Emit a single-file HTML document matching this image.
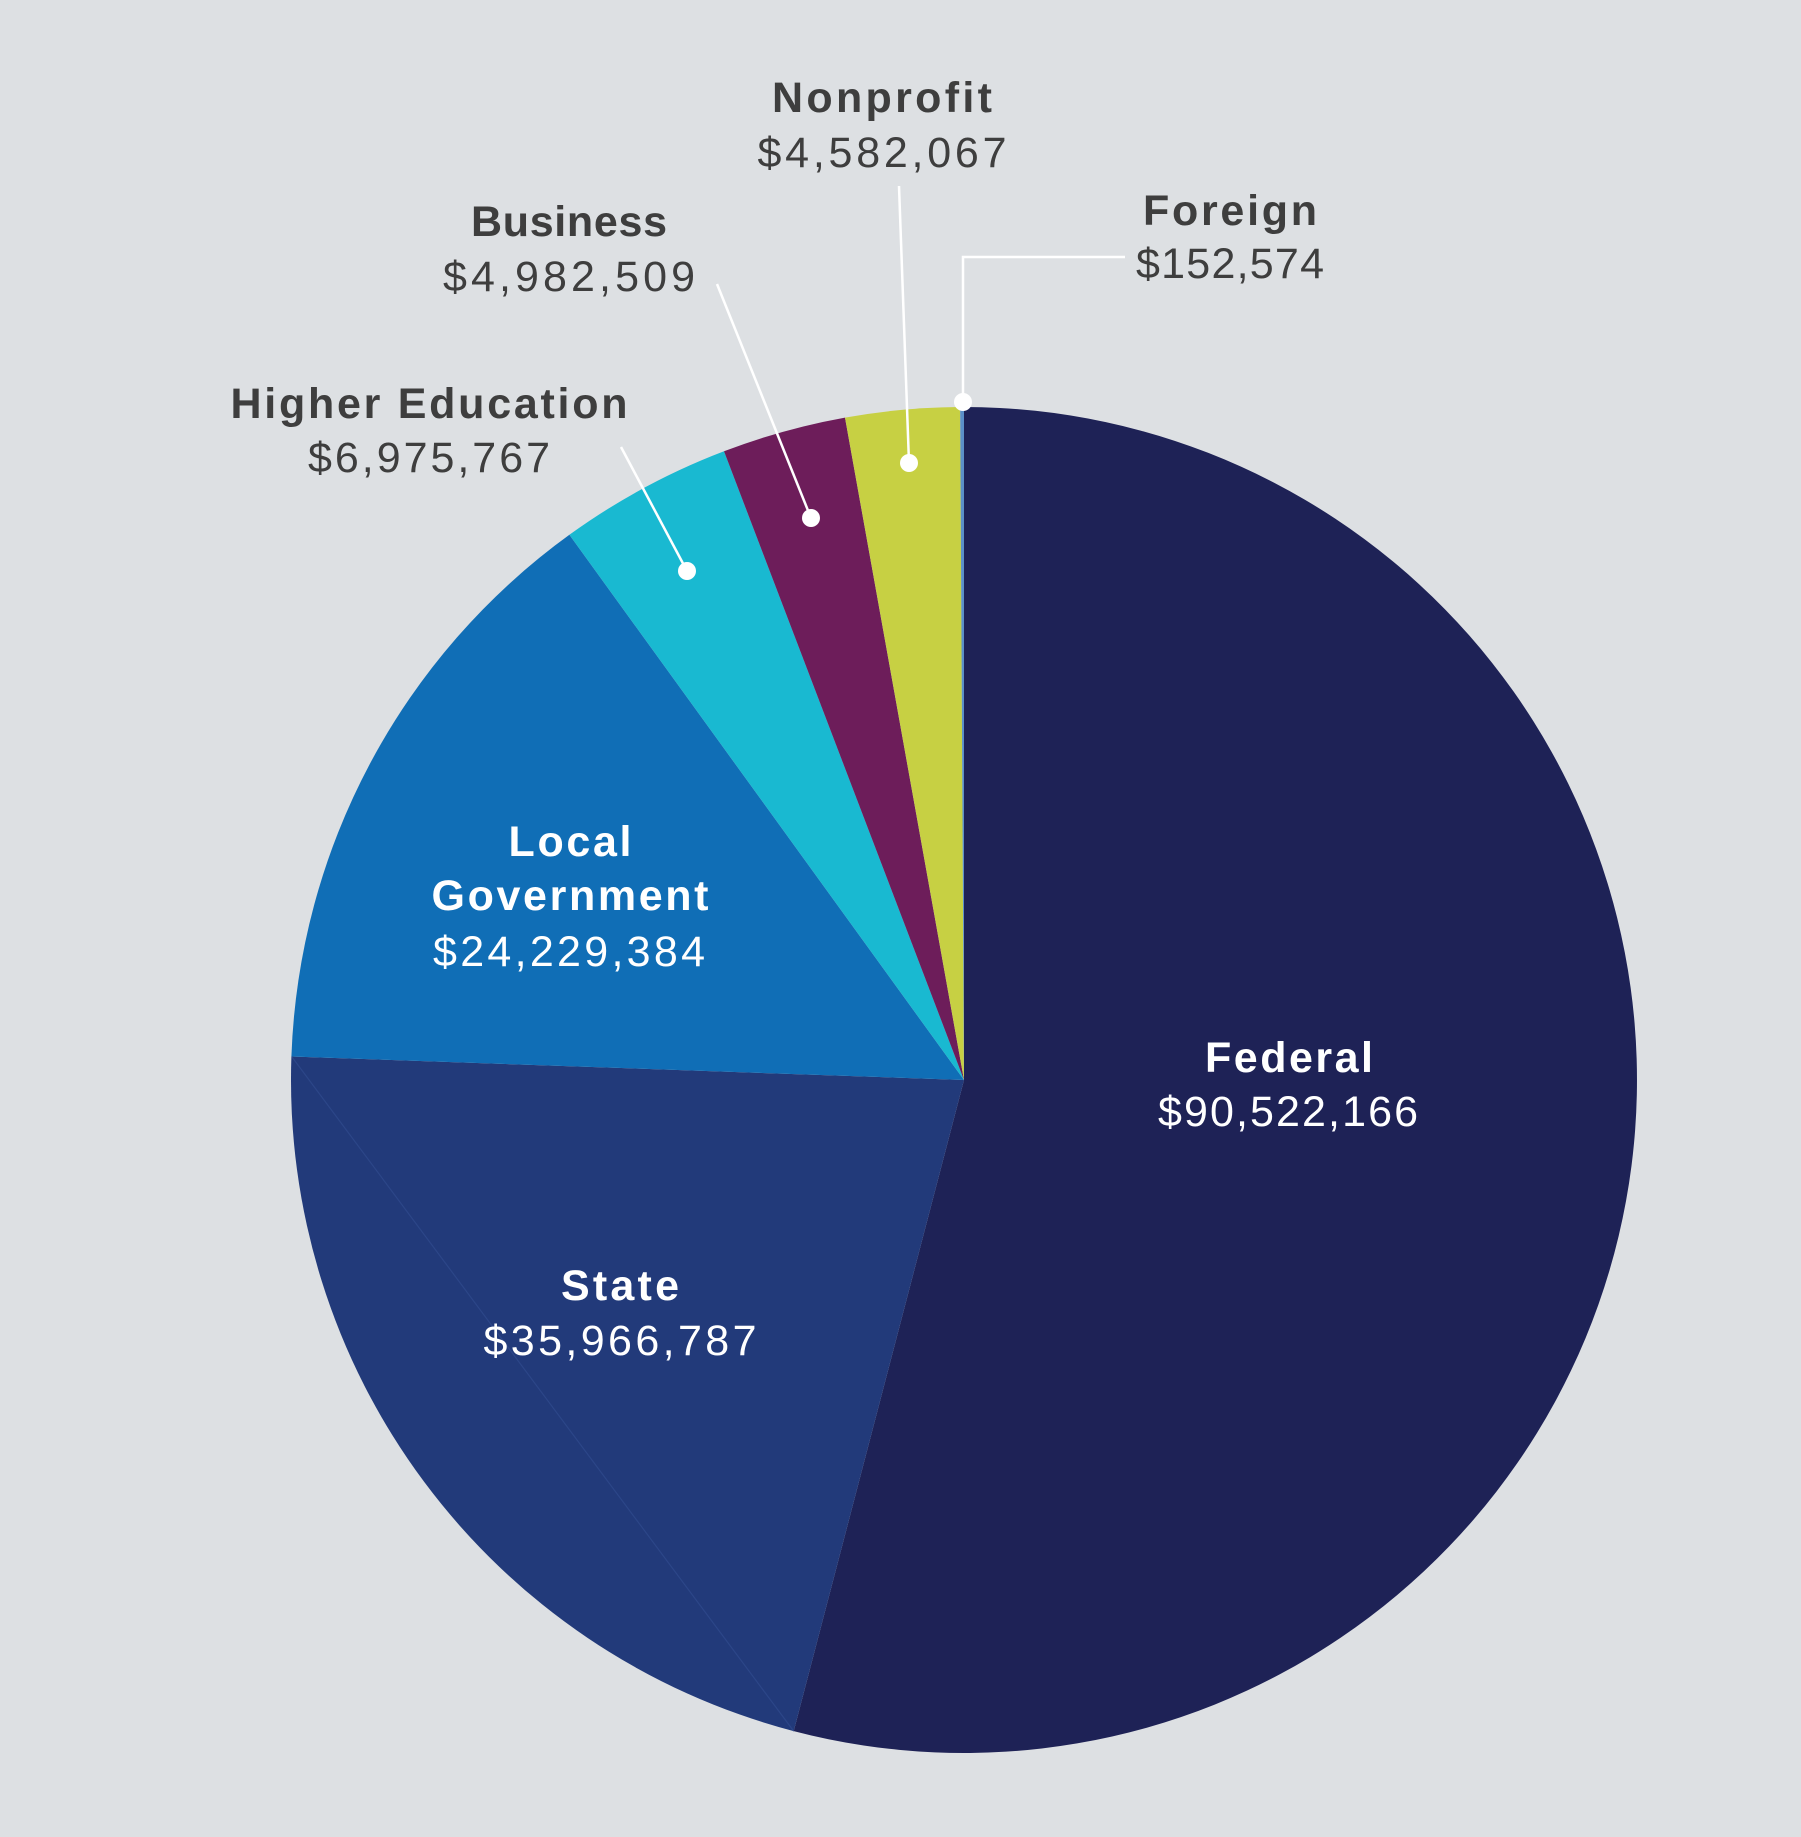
<!DOCTYPE html>
<html>
<head>
<meta charset="utf-8">
<style>
  html, body { margin: 0; padding: 0; background: #dde0e3; }
  svg { display: block; }
  .t { font-family: "Liberation Sans", Arial, sans-serif; font-weight: bold; font-size: 43px; }
  .v { font-family: "Liberation Sans", Arial, sans-serif; font-weight: normal; font-size: 43px; }
  .dk { fill: #3e3e3e; }
  .wt { fill: #ffffff; }
</style>
</head>
<body>
<svg width="1801" height="1837" viewBox="0 0 1801 1837" xmlns="http://www.w3.org/2000/svg">
  <rect x="0" y="0" width="1801" height="1837" fill="#dde0e3"/>

  <!-- Pie slices: center (964,1080), r=673 -->
  <!-- Federal -->
  <path d="M964,1080 L964,407 A673,673 0 1,1 793.7,1731.1 Z" fill="#1e2256"/>
  <!-- State -->
  <path d="M964,1080 L793.7,1731.1 A673,673 0 0,1 291.4,1056.5 Z" fill="#223a7a"/>
  <!-- faint chord inside State -->
  <line x1="292" y1="1057" x2="793.7" y2="1731.1" stroke="#2c4688" stroke-width="1.2"/>
  <!-- Local Government -->
  <path d="M964,1080 L291.4,1056.5 A673,673 0 0,1 569.4,534.8 Z" fill="#106eb6"/>
  <!-- Higher Education -->
  <path d="M964,1080 L569.4,534.8 A673,673 0 0,1 724.0,451.3 Z" fill="#19b9d1"/>
  <!-- Business -->
  <path d="M964,1080 L724.0,451.3 A673,673 0 0,1 845.0,417.6 Z" fill="#6d1d5a"/>
  <!-- Nonprofit -->
  <path d="M964,1080 L845.0,417.6 A673,673 0 0,1 960.15,407.01 Z" fill="#c7d043"/>
  <!-- Foreign -->
  <path d="M964,1080 L960.15,407.01 A673,673 0 0,1 964,407 Z" fill="#5b90c8"/>

  <!-- Leader lines -->
  <g stroke="#ffffff" stroke-width="2.5" fill="none">
    <polyline points="1125,257 963,257 963,402"/>
    <line x1="899" y1="186" x2="909" y2="463"/>
    <line x1="717" y1="284" x2="811" y2="518"/>
    <line x1="621" y1="447" x2="687" y2="571"/>
  </g>
  <g fill="#ffffff">
    <circle cx="963" cy="402" r="9"/>
    <circle cx="909" cy="463" r="9"/>
    <circle cx="811" cy="518" r="9"/>
    <circle cx="687" cy="571" r="9"/>
  </g>

  <!-- Outside labels -->
  <text class="t dk" x="882" y="112" text-anchor="middle" textLength="220" lengthAdjust="spacing">Nonprofit</text>
  <text class="v dk" x="882" y="167" text-anchor="middle" textLength="249" lengthAdjust="spacing">$4,582,067</text>

  <text class="t dk" x="1230" y="225" text-anchor="middle" textLength="174" lengthAdjust="spacing">Foreign</text>
  <text class="v dk" x="1230" y="278" text-anchor="middle" textLength="188" lengthAdjust="spacing">$152,574</text>

  <text class="t dk" x="569" y="236" text-anchor="middle" textLength="196" lengthAdjust="spacing">Business</text>
  <text class="v dk" x="569" y="291" text-anchor="middle" textLength="252" lengthAdjust="spacing">$4,982,509</text>

  <text class="t dk" x="429" y="418" text-anchor="middle" textLength="397" lengthAdjust="spacing">Higher Education</text>
  <text class="v dk" x="429" y="472" text-anchor="middle" textLength="242" lengthAdjust="spacing">$6,975,767</text>

  <!-- Inside labels -->
  <text class="t wt" x="570" y="856" text-anchor="middle" textLength="123" lengthAdjust="spacing">Local</text>
  <text class="t wt" x="570" y="910" text-anchor="middle" textLength="277" lengthAdjust="spacing">Government</text>
  <text class="v wt" x="569" y="966" text-anchor="middle" textLength="272" lengthAdjust="spacing">$24,229,384</text>

  <text class="t wt" x="1289" y="1072" text-anchor="middle" textLength="168" lengthAdjust="spacing">Federal</text>
  <text class="v wt" x="1288" y="1126" text-anchor="middle" textLength="260" lengthAdjust="spacing">$90,522,166</text>

  <text class="t wt" x="620" y="1300" text-anchor="middle" textLength="118" lengthAdjust="spacing">State</text>
  <text class="v wt" x="620" y="1355" text-anchor="middle" textLength="273" lengthAdjust="spacing">$35,966,787</text>
</svg>
</body>
</html>
